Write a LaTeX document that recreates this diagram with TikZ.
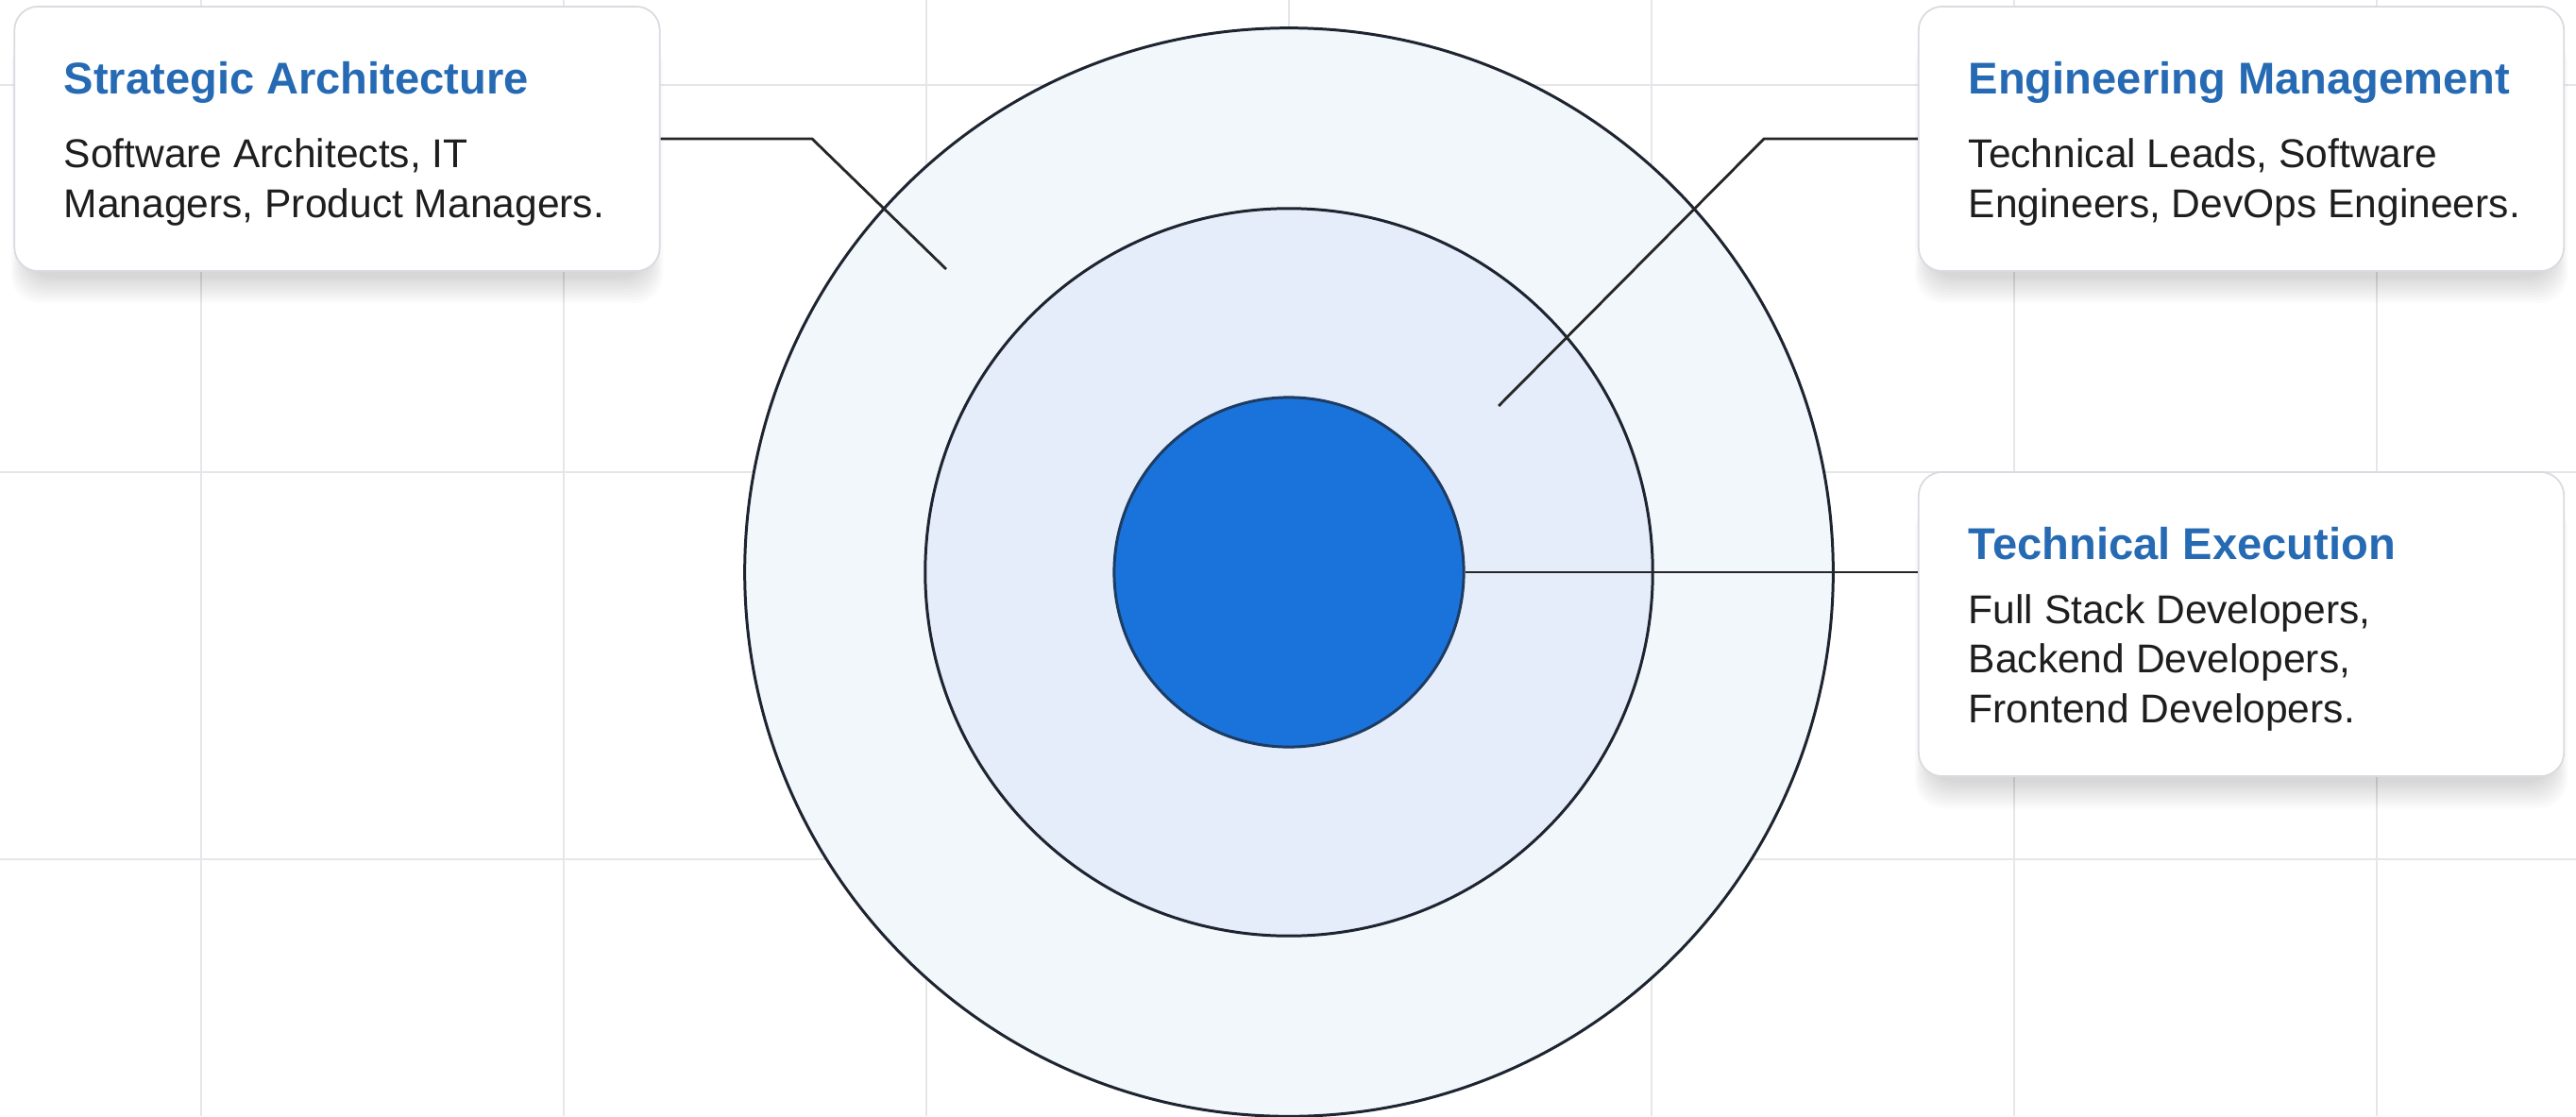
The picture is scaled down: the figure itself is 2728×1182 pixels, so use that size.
\documentclass[tikz,border=0pt]{standalone}
\usepackage{fontspec}
\setmainfont{Liberation Sans}
\definecolor{gridc}{RGB}{228,230,233}
\definecolor{outerfill}{RGB}{242,247,252}
\definecolor{midfill}{RGB}{228,237,249}
\definecolor{corefill}{RGB}{26,115,218}
\definecolor{ringline}{RGB}{30,36,48}
\definecolor{titleblue}{RGB}{38,106,180}
\definecolor{bodytext}{RGB}{30,30,30}
\definecolor{boxline}{RGB}{216,219,224}
\begin{document}
\begin{tikzpicture}[x=0.01cm,y=-0.01cm,
  gridline/.style={draw=gridc,line width=0.55pt},
  ring/.style={circle,draw=ringline,line width=0.85pt,inner sep=0pt},
  conn/.style={draw=black!85,line width=0.8pt},
  card/.style={draw=boxline,line width=0.5pt,fill=white,rounded corners=0.25cm,
    minimum width=6.83cm,inner sep=0pt},
  shadowstep/.style={fill=black,fill opacity=0.016,rounded corners=0.3cm},
  cardtitle/.style={anchor=base west,inner sep=0pt,text=titleblue,font=\fontsize{13.4pt}{16pt}\selectfont\bfseries},
  cardbody/.style={anchor=base west,inner sep=0pt,text=bodytext,font=\fontsize{12.1pt}{15pt}\selectfont}]
\useasboundingbox (0,0) rectangle (2728,1182);
\fill[white] (0,0) rectangle (2728,1182);
% grid
\foreach \gx in {213,597,981,1365,1749,2133,2517}
  \draw[gridline] (\gx,0) -- (\gx,1182);
\foreach \gy in {90,500,910}
  \draw[gridline] (0,\gy) -- (2728,\gy);
% rings
\node[ring,fill=outerfill,minimum size=11.52cm] (outer) at (1365,606) {};
\node[ring,fill=midfill,minimum size=7.70cm] (middle) at (1365,606) {};
\node[ring,fill=corefill,draw=ringline!70!corefill,minimum size=3.70cm] (core) at (1365,606) {};
% card shadows
\foreach \xa/\ya/\xb/\yb in {16/7/698/287, 2032/7/2715/287, 2032/500/2715/822}
  \foreach \i in {1,...,10}
    \fill[shadowstep] (\xa+12-1.6*\i,\ya+30) rectangle (\xb-12+1.6*\i,\yb+4+3*\i);
% cards
\node[card,minimum height=2.80cm] (sa) at (357,147) {};
\node[card,minimum height=2.80cm] (em) at (2373.5,147) {};
\node[card,minimum height=3.22cm] (te) at (2373.5,661) {};
% connectors
\coordinate (b1) at (860,147);
\coordinate (p1) at (1002,285);
\coordinate (b2) at (1868,147);
\coordinate (p2) at (1587,430);
\draw[conn] (sa.east) -- (b1) -- (p1);
\draw[conn] (em.west) -- (b2) -- (p2);
\draw[conn] (core.east) -- (core.east -| te.west);
% texts
\node[cardtitle] (sat) at (67,100) {Strategic Architecture};
\node[cardbody] (sab1) at (67,177) {Software Architects, IT};
\node[cardbody] (sab2) at (67,230) {Managers, Product Managers.};
\node[cardtitle] (emt) at (2084,100) {Engineering Management};
\node[cardbody] (emb1) at (2084,177) {Technical Leads, Software};
\node[cardbody] (emb2) at (2084,230) {Engineers, DevOps Engineers.};
\node[cardtitle] (tet) at (2084,592) {Technical Execution};
\node[cardbody] (teb1) at (2084,660) {Full Stack Developers,};
\node[cardbody] (teb2) at (2084,712) {Backend Developers,};
\node[cardbody] (teb3) at (2084,765) {Frontend Developers.};
\end{tikzpicture}
\end{document}
